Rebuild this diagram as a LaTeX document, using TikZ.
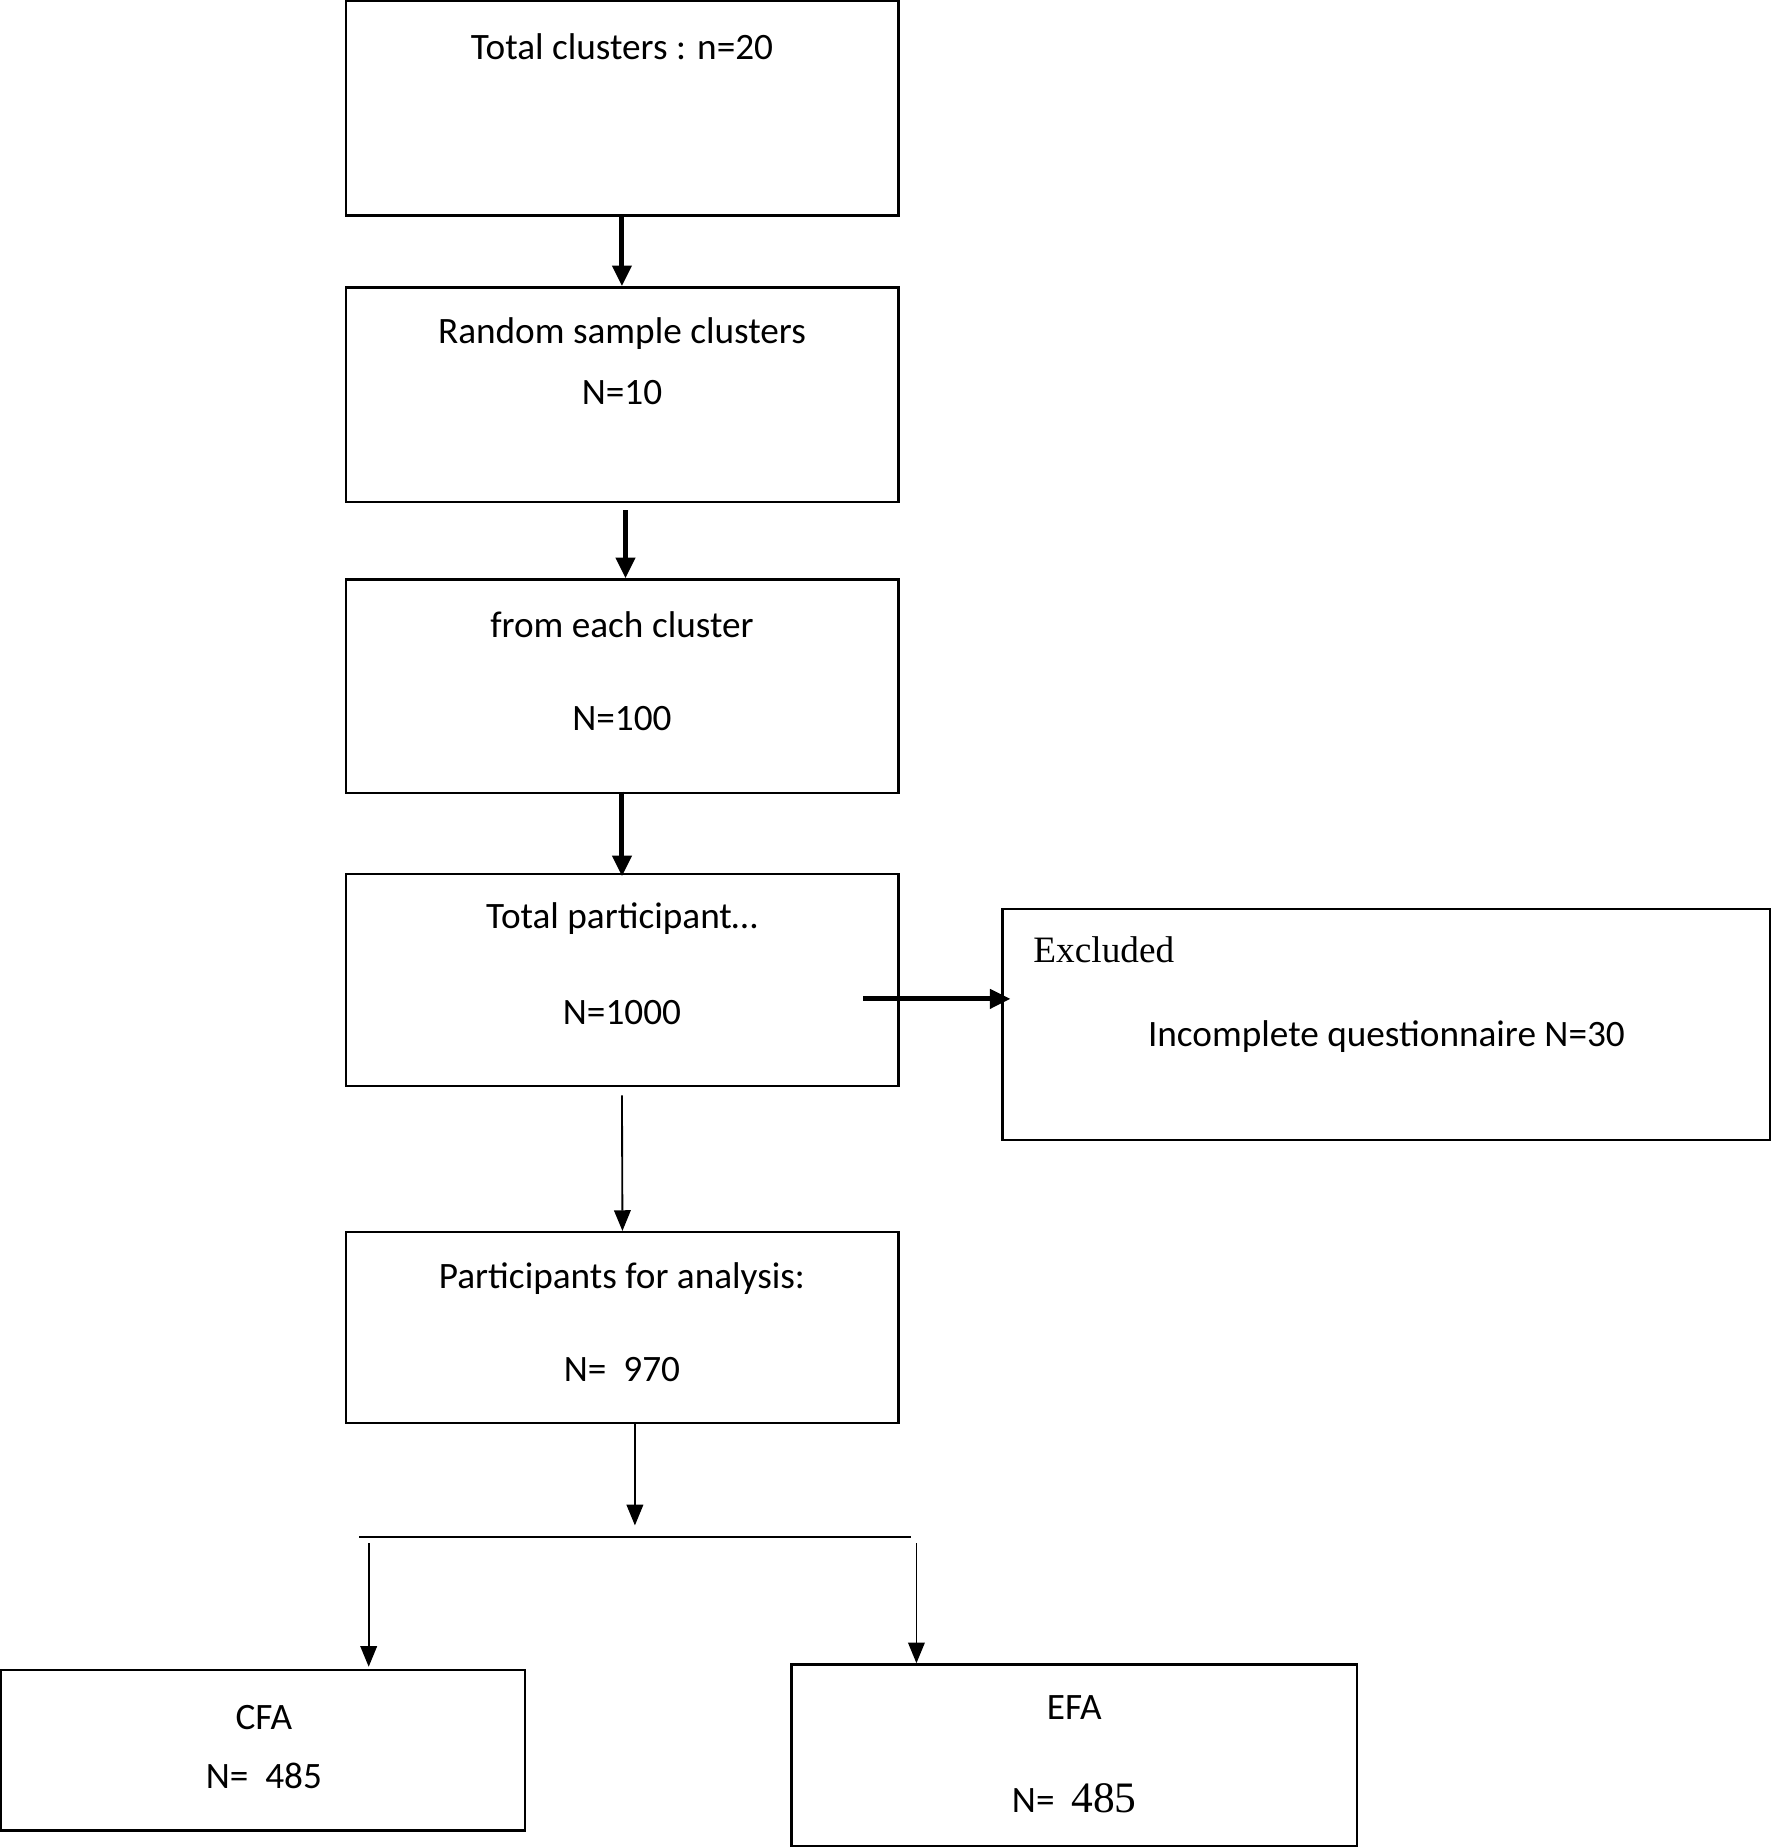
\documentclass[tikz,border=0pt]{standalone}
\usepackage{fontspec}
\setmainfont{Carlito}
\newfontfamily\tms{Liberation Serif}
\usetikzlibrary{arrows.meta}
\begin{document}
\begin{tikzpicture}[x=0.02cm,y=-0.02cm,
  box/.style={draw,line width=1.1pt,inner sep=0,anchor=north west},
  txt/.style={font=\fontsize{18}{22}\selectfont,inner sep=0},
  thick arr/.style={line width=2.4pt,-{Triangle[length=10pt,width=9pt]}},
  thin arr/.style={line width=0.9pt,-{Triangle[length=10pt,width=8pt]}}]
\useasboundingbox (0,0) rectangle (1504,1568);
\node[box,minimum width=9.38cm,minimum height=3.64cm] (b1) at (293,0) {};
\node[box,minimum width=9.38cm,minimum height=3.64cm] (b2) at (293,243) {};
\node[box,minimum width=9.38cm,minimum height=3.62cm] (b3) at (293,491) {};
\node[box,minimum width=9.38cm,minimum height=3.6cm] (b4) at (293,741) {};
\node[box,minimum width=13.04cm,minimum height=3.92cm] (b5) at (850,771) {};
\node[box,minimum width=9.38cm,minimum height=3.24cm] (b6) at (293,1045) {};
\node[box,minimum width=8.9cm,minimum height=2.72cm] (b7) at (0,1417) {};
\node[box,minimum width=9.6cm,minimum height=3.08cm] (b8) at (671,1412) {};
\node[txt] (t1) at (528,40) {Total clusters : n=20};
\node[txt] (t2a) at (528,283) {Random sample clusters};
\node[txt] (t2b) at (528,333) {N=10};
\node[txt] (t3a) at (528,530) {from each cluster};
\node[txt] (t3b) at (528,610) {N=100};
\node[txt] (t4a) at (528,780) {Total participant…};
\node[txt] (t4b) at (528,860) {N=1000};
\node[txt,anchor=west,font=\tms\fontsize{18}{22}\selectfont] (t5a) at (877,806) {Excluded};
\node[txt] (t5b) at (1177,880) {Incomplete questionnaire N=30};
\node[txt] (t6a) at (528,1085) {Participants for analysis:};
\node[txt] (t6b) at (528,1163) {N=\ \ 970};
\node[txt] (t7a) at (224,1458) {CFA};
\node[txt] (t7b) at (224,1508) {N=\ \ 485};
\node[txt] (t8a) at (912,1450) {EFA};
\node[txt] (t8b) at (912,1527) {N=\ \ {\tms\fontsize{21}{24}\selectfont 485}};
\draw[thick arr] (528,182) -- (528,243);
\draw[thick arr] (531,433) -- (531,491);
\draw[thick arr] (528,672) -- (528,744);
\coordinate (e1) at (733,848);
\draw[thick arr] (e1) -- (858,848);
\draw[thin arr] (528,930) -- (b6.north);
\draw[thin arr] (539,1208) -- (539,1295);
\coordinate (sl) at (305,1305); \coordinate (sr) at (773,1305);
\draw[line width=0.9pt] (sl) -- (sr);
\draw[thin arr] (313,1310) -- (313,1415);
\draw[thin arr] (778,1310) -- (778,1412);
\end{tikzpicture}
\end{document}
